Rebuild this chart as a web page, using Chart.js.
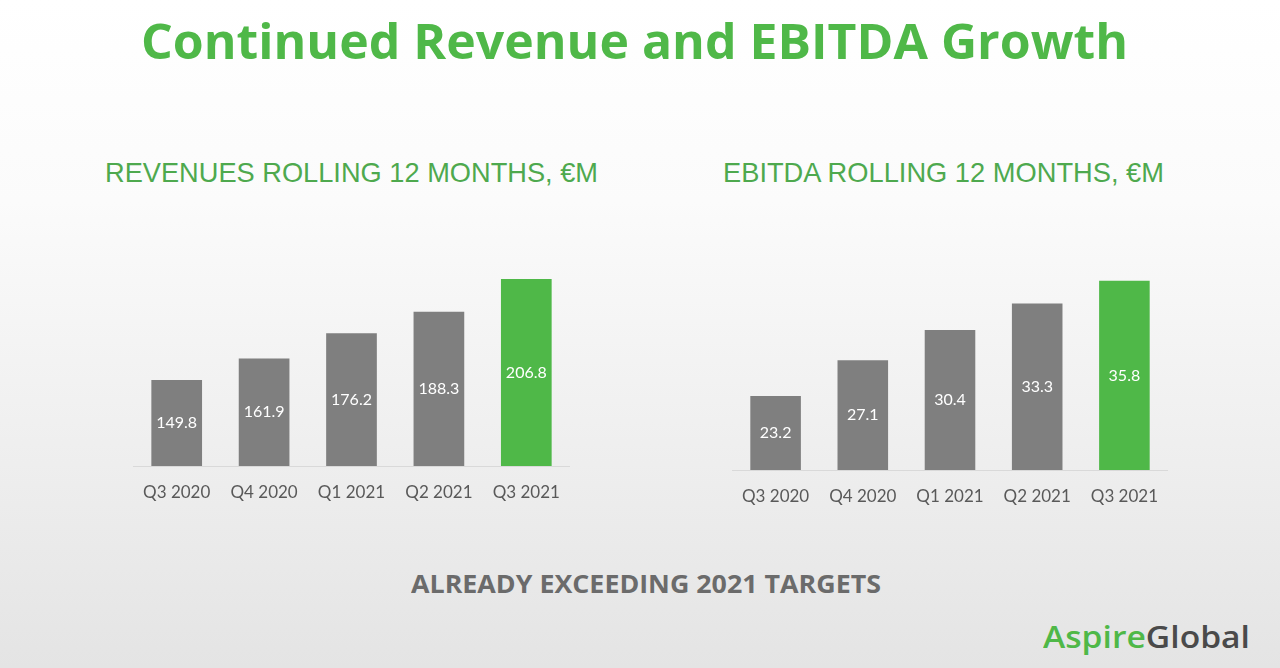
<!DOCTYPE html>
<html>
<head>
<meta charset="utf-8">
<script src="https://cdn.jsdelivr.net/npm/chart.js@4.4.1/dist/chart.umd.min.js"></script>
<style>
  html, body { margin: 0; padding: 0; }
  body {
    width: 1280px; height: 668px; overflow: hidden; position: relative;
    background: linear-gradient(180deg, #ffffff 0%, #fbfbfb 30%, #f1f1f1 60%, #e9e9e9 85%, #e4e4e4 100%);
    font-family: "Open Sans", sans-serif;
  }
  .txt { position: absolute; white-space: nowrap; transform-origin: 0 0; line-height: 1; }
  .box { position: absolute; }
</style>
</head>
<body>
<div class="txt" id="title" style="font-weight:700;font-size:49px;color:#4fb848;">Continued Revenue and EBITDA Growth</div>
<div class="txt" id="subL" style="font-family:'Liberation Sans',Arial,sans-serif;font-size:28px;color:#4ea94e;">REVENUES ROLLING 12 MONTHS, €M</div>
<div class="txt" id="subR" style="font-family:'Liberation Sans',Arial,sans-serif;font-size:28px;color:#4ea94e;">EBITDA ROLLING 12 MONTHS, €M</div>
<div class="txt" id="foot" style="font-weight:700;font-size:25px;color:#6b6b6b;">ALREADY EXCEEDING 2021 TARGETS</div>
<div class="txt" id="logo" style="font-weight:600;font-size:31px;"><span style="color:#4fb848;">Aspire</span><span style="color:#4a4a4a;">Global</span></div>

<div class="box" style="left:133px;top:237px;width:437px;height:273px;"><canvas id="revChart"></canvas></div>
<div class="box" style="left:732px;top:240px;width:436px;height:274px;"><canvas id="ebitdaChart"></canvas></div>

<script>
// Данные
const quarters = ["Q3 2020", "Q4 2020", "Q1 2021", "Q2 2021", "Q3 2021"];
const revenues = [149.8, 161.9, 176.2, 188.3, 206.8];
const ebitda = [23.2, 27.1, 30.4, 33.3, 35.8];
const barColors = ["#7f7f7f", "#7f7f7f", "#7f7f7f", "#7f7f7f", "#4fb848"];

// Подгонка текста по ширине: left, центр по y, ширина
function place(id, x, yMid, w) {
  const el = document.getElementById(id);
  const r = el.getBoundingClientRect();
  const s = w / r.width;
  el.style.left = x + "px";
  el.style.top = (yMid - r.height / 2) + "px";
  el.style.transform = "scaleX(" + s + ")";
}
place("title", 141, 40, 987);
place("subL", 105, 173, 493);
place("subR", 723, 173, 441);
place("foot", 411, 583, 470);
place("logo", 1043, 636, 207);

// Подписи значений внутри столбцов
const valueLabels = {
  id: "valueLabels",
  afterDatasetsDraw(chart) {
    const ctx = chart.ctx;
    const meta = chart.getDatasetMeta(0);
    const bottom = chart.chartArea.bottom;
    ctx.save();
    ctx.fillStyle = "#ffffff";
    ctx.font = "16px Lato";
    ctx.textAlign = "center";
    ctx.textBaseline = "middle";
    meta.data.forEach((bar, i) => {
      const v = chart.data.datasets[0].data[i];
      ctx.fillText(v.toFixed(1), bar.x, (bar.y + bottom) / 2);
    });
    ctx.restore();
  }
};

function makeChart(canvasId, values, yMin, yMax) {
  const ctx = document.getElementById(canvasId).getContext("2d");
  return new Chart(ctx, {
    type: "bar",
    data: {
      labels: quarters,
      datasets: [{
        data: values,
        backgroundColor: barColors,
        categoryPercentage: 1,
        barPercentage: 0.58
      }]
    },
    options: {
      responsive: true,
      maintainAspectRatio: false,
      animation: false,
      layout: { padding: 0 },
      plugins: { legend: { display: false }, tooltip: { enabled: false } },
      scales: {
        x: {
          grid: { display: false, drawTicks: true, tickLength: 16 },
          border: { display: true, color: "#d9d9d9", width: 1 },
          ticks: { color: "#595959", font: { family: "Lato", size: 17 }, padding: 0 },
          afterFit(scale) { scale.height = 44; }
        },
        y: { display: false, min: yMin, max: yMax }
      }
    },
    plugins: [valueLabels]
  });
}

makeChart("revChart", revenues, 101.3, 230.5);
makeChart("ebitdaChart", ebitda, 15.1, 40.25);
</script>
</body>
</html>
